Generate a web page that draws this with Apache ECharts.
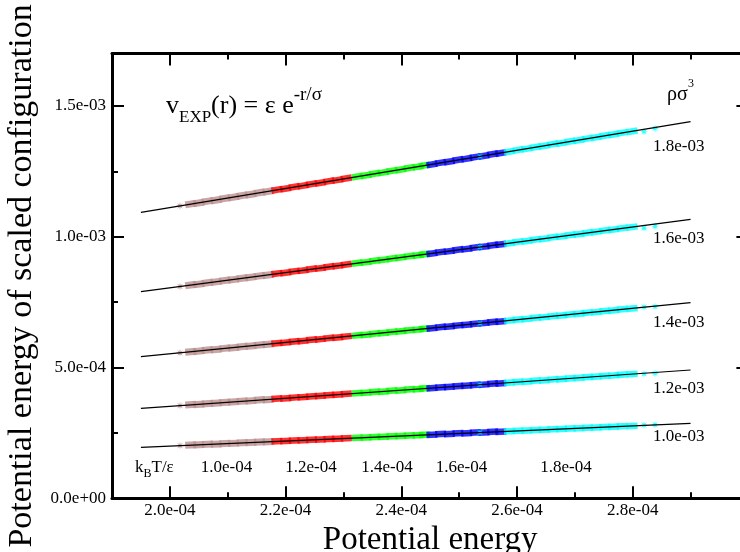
<!DOCTYPE html>
<html><head><meta charset="utf-8">
<script src="https://cdn.jsdelivr.net/npm/echarts@6/dist/echarts.min.js"></script>
<style>html,body{margin:0;padding:0;background:#fff}#c{width:740px;height:552px}</style>
</head><body><div id="c"></div>
<script>
// x values in units of 1e-4, y values in units of 1e-3
const densityLabels = ['1.8e-03','1.6e-03','1.4e-03','1.2e-03','1.0e-03'];
const temperatureLabels = ['1.0e-04','1.2e-04','1.4e-04','1.6e-04','1.8e-04'];
const xMajorTicks = [2.0,2.2,2.4,2.6,2.8,3.0];
const xLabelTicks = [2.0,2.2,2.4,2.6,2.8];
const xMinorTicks = [2.1,2.3,2.5,2.7,2.9];
const yMajorTicks = [0,0.5,1.0,1.5];
const yMinorTicks = [0.25,0.75,1.25];

// fit lines
const fitX = [1.95, 2.90];
const fitY18 = [1.093, 1.440];
const fitY16 = [0.790, 1.0665];
const fitY14 = [0.5413, 0.7477];
const fitY12 = [0.344, 0.4904];
const fitY10 = [0.195, 0.2867];

// dense clouds (x positions per temperature)
const brownX = [2.036,2.050,2.065,2.080,2.095,2.110,2.125,2.140,2.155,2.170];
const redX   = [2.185,2.200,2.215,2.230,2.245,2.260,2.275,2.290,2.305];
const greenX = [2.324,2.339,2.354,2.369,2.384,2.399,2.414,2.429,2.440];
const blueX  = [2.453,2.468,2.483,2.498,2.513,2.528,2.543,2.558,2.572];
const cyanX  = [2.587,2.602,2.617,2.632,2.647,2.662,2.677,2.692,2.707,2.722,2.737,2.752,2.767,2.782,2.799];

const brownY18 = [1.1250,1.1290,1.1356,1.1400,1.1466,1.1510,1.1574,1.1620,1.1684,1.1730];
const redY18   = [1.1794,1.1838,1.1903,1.1949,1.2013,1.2058,1.2122,1.2168,1.2231];
const greenY18 = [1.2300,1.2346,1.2410,1.2456,1.2520,1.2566,1.2630,1.2676,1.2724];
const blueY18  = [1.2762,1.2827,1.2872,1.2937,1.2982,1.3046,1.3091,1.3156,1.3198];
const cyanY18  = [1.3253,1.3317,1.3362,1.3426,1.3471,1.3536,1.3581,1.3646,1.3690,1.3755,1.3800,1.3865,1.3910,1.3974,1.4028];

const brownY16 = [0.8156,0.8186,0.8240,0.8274,0.8328,0.8361,0.8414,0.8449,0.8502,0.8536];
const redY16   = [0.8590,0.8623,0.8676,0.8711,0.8764,0.8798,0.8851,0.8886,0.8938];
const greenY16 = [0.8994,0.9028,0.9081,0.9115,0.9168,0.9203,0.9256,0.9290,0.9330];
const blueY16  = [0.9359,0.9413,0.9447,0.9500,0.9534,0.9588,0.9621,0.9675,0.9707];
const cyanY16  = [0.9750,0.9803,0.9837,0.9890,0.9924,0.9978,1.0011,1.0065,1.0099,1.0152,1.0186,1.0240,1.0273,1.0327,1.0367];

const brownY14 = [0.5605,0.5626,0.5668,0.5691,0.5733,0.5757,0.5798,0.5822,0.5863,0.5887];
const redY14   = [0.5929,0.5952,0.5994,0.6017,0.6059,0.6083,0.6124,0.6148,0.6189];
const greenY14 = [0.6230,0.6254,0.6296,0.6319,0.6361,0.6385,0.6426,0.6450,0.6482];
const blueY14  = [0.6502,0.6544,0.6567,0.6609,0.6632,0.6674,0.6698,0.6739,0.6761];
const cyanY14  = [0.6793,0.6835,0.6858,0.6900,0.6924,0.6965,0.6989,0.7030,0.7054,0.7096,0.7119,0.7161,0.7184,0.7226,0.7254];

const brownY12 = [0.3578,0.3590,0.3622,0.3636,0.3668,0.3683,0.3715,0.3729,0.3761,0.3775];
const redY12   = [0.3807,0.3821,0.3853,0.3867,0.3900,0.3914,0.3946,0.3960,0.3992];
const greenY12 = [0.4020,0.4035,0.4068,0.4082,0.4114,0.4128,0.4160,0.4174,0.4199];
const blueY12  = [0.4211,0.4243,0.4257,0.4289,0.4304,0.4336,0.4350,0.4382,0.4395];
const cyanY12  = [0.4418,0.4450,0.4464,0.4496,0.4510,0.4542,0.4556,0.4588,0.4603,0.4635,0.4649,0.4681,0.4695,0.4727,0.4744];

const brownY10 = [0.2038,0.2043,0.2066,0.2071,0.2095,0.2100,0.2124,0.2129,0.2153,0.2158];
const redY10   = [0.2182,0.2187,0.2211,0.2216,0.2240,0.2245,0.2269,0.2274,0.2298];
const greenY10 = [0.2315,0.2321,0.2345,0.2350,0.2374,0.2379,0.2403,0.2408,0.2427];
const blueY10  = [0.2431,0.2455,0.2460,0.2484,0.2489,0.2513,0.2518,0.2542,0.2546];
const cyanY10  = [0.2561,0.2584,0.2590,0.2613,0.2619,0.2642,0.2648,0.2671,0.2677,0.2700,0.2705,0.2729,0.2734,0.2758,0.2765];

// isolated points
const brownSparseX = [2.0175];
const cyanSparseX = [2.536, 2.8196, 2.8386];
const brownSparseY = [1.1177, 0.8097, 0.5560, 0.3544, 0.2015];
const cyanSparseY18 = [1.3071, 1.4014, 1.4140];
const cyanSparseY16 = [0.9606, 1.0330, 1.0400];
const cyanSparseY14 = [0.6686, 0.7310, 0.7330];
const cyanSparseY12 = [0.4343, 0.4760, 0.4775];
const cyanSparseY10 = [0.2515, 0.2800, 0.2815];

const colors = ['#bc8f8f','#ff0000','#00ff00','#0000ff','#00ffff'];
const cloudX = [brownX, redX, greenX, blueX, cyanX];
const cloudY = [
  [brownY18, redY18, greenY18, blueY18, cyanY18],
  [brownY16, redY16, greenY16, blueY16, cyanY16],
  [brownY14, redY14, greenY14, blueY14, cyanY14],
  [brownY12, redY12, greenY12, blueY12, cyanY12],
  [brownY10, redY10, greenY10, blueY10, cyanY10]
];
const fitY = [fitY18, fitY16, fitY14, fitY12, fitY10];
const cyanSparseY = [cyanSparseY18, cyanSparseY16, cyanSparseY14, cyanSparseY12, cyanSparseY10];
const bandRotate = [9.4, 7.5, 5.6, 4.0, 2.5];

const FONT = '"Liberation Serif","Times New Roman",serif';
const STAR = 'path://M10 0 L3.5 1.45 L7.07 7.07 L1.45 3.5 L0 10 L-1.45 3.5 L-7.07 7.07 L-3.5 1.45 L-10 0 L-3.5 -1.45 L-7.07 -7.07 L-1.45 -3.5 L0 -10 L1.45 -3.5 L7.07 -7.07 L3.5 -1.45 Z';

function expo(v) {
  return v.toExponential(1).replace(/e([+-])(\d)$/, 'e$10$2');
}

const series = [];
cloudY.forEach((rows, i) => {
  rows.forEach((ys, j) => {
    series.push({
      type: 'scatter', z: 2, silent: true,
      symbol: 'rect', symbolSize: [11, j === 0 ? 7 : 6.5], symbolRotate: bandRotate[i],
      itemStyle: { color: colors[j] },
      data: cloudX[j].map((x, k) => [x, ys[k]])
    });
  });
  series.push({
    type: 'scatter', z: 3, silent: true, symbol: STAR, symbolSize: 8,
    itemStyle: { color: colors[0] },
    data: brownSparseX.map(x => [x, brownSparseY[i]])
  });
  series.push({
    type: 'scatter', z: 3, silent: true, symbol: STAR, symbolSize: 8,
    itemStyle: { color: colors[4] },
    data: cyanSparseX.map((x, k) => [x, cyanSparseY[i][k]])
  });
  series.push({
    type: 'line', z: 5, silent: true, symbol: 'none',
    lineStyle: { color: '#000', width: 1.2 },
    data: fitX.map((x, k) => [x, fitY[i][k]])
  });
});

const tickStyle = { color: '#000', width: 2 };
function xAx(pos, ticks, len, main) {
  return {
    type: 'value', min: 1.9, max: 3.0, position: pos,
    axisLine: { show: main, onZero: false, lineStyle: { color: '#000', width: 3 } },
    axisTick: { show: true, inside: true, length: len, lineStyle: tickStyle, customValues: ticks },
    axisLabel: (main && pos === 'bottom') ? {
      show: true, customValues: xLabelTicks, formatter: v => expo(v * 1e-4),
      fontFamily: FONT, fontSize: 17, color: '#000', margin: 4
    } : { show: false },
    splitLine: { show: false },
    name: (main && pos === 'bottom') ? 'Potential energy' : '',
    nameLocation: 'middle', nameGap: 22,
    nameTextStyle: { fontFamily: FONT, fontSize: 33, color: '#000' }
  };
}
function yAx(pos, ticks, len, main) {
  return {
    type: 'value', min: 0, max: 1.7, position: pos,
    axisLine: { show: main, onZero: false, lineStyle: { color: '#000', width: 3 } },
    axisTick: { show: true, inside: true, length: len, lineStyle: tickStyle, customValues: ticks },
    axisLabel: (main && pos === 'left') ? {
      show: true, customValues: yMajorTicks, formatter: v => expo(v * 1e-3),
      fontFamily: FONT, fontSize: 17, color: '#000', margin: 6
    } : { show: false },
    splitLine: { show: false },
    name: (main && pos === 'left') ? 'Potential energy of scaled configuration' : '',
    nameLocation: 'middle', nameGap: 73,
    nameTextStyle: { fontFamily: FONT, fontSize: 34, color: '#000' }
  };
}

const graphic = [];
graphic.push({
  type: 'text', x: 166, y: 106, silent: true,
  style: {
    text: '{m|v}{s|EXP}{m|(r) = ε e}{p|-r/σ}', align: 'left', verticalAlign: 'middle',
    rich: {
      m: { fontFamily: FONT, fontSize: 26, lineHeight: 40, verticalAlign: 'middle', fill: '#000' },
      s: { fontFamily: FONT, fontSize: 17, lineHeight: 16, verticalAlign: 'bottom', fill: '#000' },
      p: { fontFamily: FONT, fontSize: 19, lineHeight: 17, verticalAlign: 'top', fill: '#000' }
    }
  }
});
graphic.push({ type: 'text', x: 667, y: 95, silent: true,
  style: { text: 'ρσ', fontFamily: FONT, fontSize: 20, fill: '#000', align: 'left', verticalAlign: 'middle' } });
graphic.push({ type: 'text', x: 688, y: 84, silent: true,
  style: { text: '3', fontFamily: FONT, fontSize: 12, fill: '#000', align: 'left', verticalAlign: 'middle' } });
const densityLabelY = [146.7, 238.3, 322.7, 388.3, 436.7];
densityLabels.forEach((t, i) => {
  graphic.push({ type: 'text', x: 653, y: densityLabelY[i], silent: true,
    style: { text: t, fontFamily: FONT, fontSize: 17, fill: '#000', align: 'left', verticalAlign: 'middle' } });
});
graphic.push({
  type: 'text', x: 135, y: 468, silent: true,
  style: {
    text: '{m|k}{s|B}{m|T/ε}', align: 'left', verticalAlign: 'middle',
    rich: {
      m: { fontFamily: FONT, fontSize: 17, lineHeight: 24, verticalAlign: 'middle', fill: '#000' },
      s: { fontFamily: FONT, fontSize: 12, lineHeight: 12, verticalAlign: 'bottom', fill: '#000' }
    }
  }
});
const tempLabelX = [226.5, 311, 387, 461.5, 566];
temperatureLabels.forEach((t, i) => {
  graphic.push({ type: 'text', x: tempLabelX[i], y: 468, silent: true,
    style: { text: t, fontFamily: FONT, fontSize: 17, fill: '#000', align: 'center', verticalAlign: 'middle' } });
});

const chart = echarts.init(document.getElementById('c'));
chart.setOption({
  animation: false,
  backgroundColor: '#fff',
  grid: { left: 112, top: 53.6, width: 636.4, height: 444.7, outerBoundsMode: 'none', containLabel: false },
  xAxis: [ xAx('bottom', xMajorTicks, 12, true), xAx('bottom', xMinorTicks, 6, false),
           xAx('top', xMajorTicks, 12, true), xAx('top', xMinorTicks, 6, false) ],
  yAxis: [ yAx('left', yMajorTicks, 12, true), yAx('left', yMinorTicks, 6, false),
           yAx('right', yMajorTicks, 12, true), yAx('right', yMinorTicks, 6, false) ],
  series: series,
  graphic: graphic
});
</script>
</body></html>
